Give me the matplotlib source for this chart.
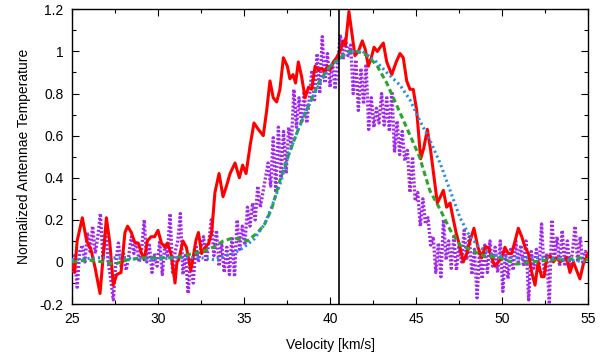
import numpy as np
import matplotlib
matplotlib.use("Agg")
import matplotlib.pyplot as plt
from matplotlib.ticker import MultipleLocator, FuncFormatter

plt.rcParams['font.family'] = ['Liberation Sans', 'DejaVu Sans']

# ---- data ----
red_v = [25.0, 25.15, 25.3, 25.6, 25.85, 26.1, 26.35, 26.63, 27.0, 27.2, 27.4, 27.6,
         27.85, 28.08, 28.23, 28.45, 28.66, 28.85, 29.05, 29.2, 29.38, 29.6, 29.8, 30.0,
         30.2, 30.4, 30.55, 30.75, 30.99, 31.1, 31.2, 31.45, 31.65, 31.9, 32.0, 32.2,
         32.35, 32.54, 32.75, 32.95, 33.12, 33.31, 33.55, 33.78, 33.98, 34.19, 34.48,
         34.73, 34.92, 35.12, 35.35, 35.58, 35.83, 36.12, 36.32, 36.51, 36.7, 36.9,
         37.09, 37.29, 37.52, 37.67, 37.85, 38.0, 38.16, 38.35, 38.55, 38.75, 38.94,
         39.13, 39.33, 39.52, 39.7, 39.84, 40.0, 40.19, 40.38, 40.58, 40.77, 40.9,
         41.1, 41.3, 41.45, 41.65, 41.88, 42.05, 42.23, 42.4, 42.56, 42.75, 42.92,
         43.1, 43.3, 43.59, 43.85, 44.07, 44.26, 44.46, 44.65, 44.84, 45.04, 45.15,
         45.27, 45.45, 45.66, 45.85, 46.05, 46.24, 46.42, 46.59, 46.78, 46.98, 47.15,
         47.33, 47.56, 47.75, 47.95, 48.14, 48.37, 48.6, 48.82, 49.0, 49.2, 49.4,
         49.59, 49.78, 49.98, 50.17, 50.36, 50.56, 50.76, 50.95, 51.15, 51.34, 51.54,
         51.73, 51.92, 52.1, 52.3, 52.45, 52.6, 52.8, 52.99, 53.18, 53.37, 53.56,
         53.76, 53.95, 54.15, 54.34, 54.53, 54.73, 55.0]
red_t = [0.01, -0.05, 0.1, 0.21, 0.1, 0.06, -0.03, -0.15, 0.21, 0.09, -0.11, -0.06,
         -0.05, 0.14, 0.17, 0.14, 0.09, 0.09, 0.04, 0.01, 0.1, 0.12, 0.12, 0.15,
         0.09, 0.07, 0.09, 0.04, -0.1, 0.0, 0.01, 0.1, 0.07, -0.04, 0.0, 0.1,
         0.14, 0.04, 0.07, 0.09, 0.14, 0.33, 0.42, 0.31, 0.36, 0.42, 0.47,
         0.40, 0.46, 0.42, 0.55, 0.66, 0.63, 0.60, 0.72, 0.86, 0.78, 0.76,
         0.82, 0.97, 0.93, 0.87, 0.89, 0.85, 0.95, 0.88, 0.78, 0.83, 0.82,
         0.93, 0.91, 0.92, 0.90, 0.93, 0.91, 0.95, 0.97, 1.0, 1.05, 1.03,
         1.19, 1.07, 0.98, 1.0, 1.05, 1.01, 0.93, 0.97, 1.02, 1.0, 1.02,
         1.04, 0.95, 0.89, 0.95, 0.99, 0.97, 0.86, 0.82, 0.82, 0.72, 0.61,
         0.49, 0.54, 0.63, 0.53, 0.40, 0.28, 0.31, 0.34, 0.26, 0.28, 0.21,
         0.14, 0.07, 0.0, 0.04, 0.1, 0.16, 0.07, 0.02, 0.07, 0.07, 0.02,
         -0.02, 0.0, 0.02, 0.07, 0.04, 0.04, 0.1, 0.16, 0.12, 0.07, 0.04,
         -0.05, -0.11, 0.0, -0.07, -0.07, 0.02, 0.03, 0.0, 0.02, 0.0, 0.01,
         0.02, -0.05, 0.0, -0.04, -0.08, -0.01, 0.04]

purple_start, purple_step = 25.0, 0.15
purple_t = [-0.05, 0.03, -0.12, 0.05, 0.08, 0.0, 0.14, 0.05, 0.17, 0.04,
            0.12, 0.23, 0.02, 0.15, 0.0, -0.08, -0.18, 0.0, 0.09, -0.02,
            0.04, -0.04, 0.03, 0.12, 0.04, 0.1, 0.0, 0.06, 0.2, 0.0,
            0.08, -0.05, 0.04, -0.02, 0.1, -0.06, 0.08, 0.03, 0.23, -0.05,
            0.05, 0.1, 0.23, -0.06, 0.04, -0.15, 0.02, -0.1, 0.08, 0.0,
            0.07, 0.12, 0.0, 0.09, 0.2, 0.03, 0.15, -0.02, 0.09, -0.05,
            0.07, -0.06, 0.12, -0.07, 0.2, 0.06, 0.17, 0.08, 0.26, 0.17,
            0.28, 0.2, 0.36, 0.26, 0.33, 0.4, 0.47, 0.36, 0.59, 0.33,
            0.64, 0.4, 0.62, 0.42, 0.64, 0.55, 0.82, 0.64, 0.78, 0.66,
            0.81, 0.66, 0.78, 0.91, 0.77, 0.99, 0.8, 1.07, 0.85, 0.99,
            0.83, 0.95, 0.82, 0.95, 1.08, 0.96, 1.06, 0.98, 1.03, 0.8,
            0.96, 0.72, 0.92, 0.75, 0.94, 0.63, 0.78, 0.64, 0.73, 0.66,
            0.8, 0.65, 0.78, 0.62, 0.81, 0.52, 0.67, 0.51, 0.62, 0.48,
            0.53, 0.33, 0.5, 0.29, 0.33, 0.17, 0.3, 0.18, 0.21, 0.08,
            0.12, -0.05, 0.09, -0.07, 0.2, 0.01, 0.1, -0.03, 0.12, -0.04,
            0.08, 0.0, 0.15, 0.01, 0.12, -0.06, 0.06, -0.17, 0.05, -0.08,
            0.08, -0.05, 0.1, -0.02, 0.07, -0.05, 0.1, -0.14, 0.05, -0.08,
            0.06, -0.04, 0.1, 0.0, 0.08, -0.02, 0.1, -0.18, 0.05, -0.03,
            0.06, -0.04, 0.18, -0.05, 0.04, -0.2, 0.2, 0.02, 0.12, -0.02,
            0.15, -0.02, 0.1, -0.03, 0.05, 0.17, 0.0, 0.12, -0.01, 0.05,
            0.02]

green_v = [25.0, 25.9, 26.8, 27.5, 28.2, 29.1, 30.1, 31.0, 32.0, 32.6, 33.2, 33.8,
           34.2, 34.7, 35.2, 35.8, 36.2, 36.6, 37.1, 37.6, 38.2, 38.8, 39.4, 40.0,
           40.6, 41.0, 41.6, 42.2, 42.75, 43.3, 43.9, 44.5, 45.2, 45.8, 46.4, 47.0,
           47.56, 48.14, 48.9, 49.9, 50.85, 51.8, 52.75, 53.7, 54.5, 55.0]
green_t = [0.0, 0.01, 0.0, -0.01, 0.01, 0.02, 0.02, 0.02, 0.04, 0.05, 0.07, 0.1,
           0.11, 0.11, 0.1, 0.14, 0.18, 0.25, 0.39, 0.51, 0.64, 0.75, 0.86, 0.93,
           0.97, 1.0, 1.0, 0.98, 0.93, 0.85, 0.74, 0.63, 0.5, 0.34, 0.25, 0.15,
           0.08, 0.06, 0.03, 0.02, -0.01, 0.0, 0.01, 0.01, 0.02, 0.01]

blue_v = [25.0, 26.5, 28.0, 29.5, 31.0, 32.5, 33.3, 33.9, 34.4, 35.0, 35.6, 36.2,
          36.6, 37.1, 37.6, 38.2, 38.8, 39.4, 40.0, 40.6, 41.2, 41.9, 42.7, 43.3,
          44.07, 44.65, 45.23, 45.8, 46.4, 46.98, 47.56, 48.14, 48.7, 49.3, 50.3,
          51.8, 52.8, 53.7, 55.0]
blue_t = [0.01, 0.02, 0.02, 0.01, 0.02, 0.02, 0.01, 0.03, 0.04, 0.07, 0.11, 0.18,
          0.26, 0.37, 0.51, 0.64, 0.75, 0.85, 0.93, 0.97, 1.0, 1.0, 0.95, 0.9,
          0.84, 0.77, 0.67, 0.58, 0.47, 0.34, 0.21, 0.12, 0.07, 0.04, 0.02,
          0.02, 0.02, 0.01, 0.0]

vline_v = 40.5
x_ticks = [25, 30, 35, 40, 45, 50, 55]
y_ticks = [-0.2, 0, 0.2, 0.4, 0.6, 0.8, 1.0, 1.2]

# ---- figure ----
fig = plt.figure(figsize=(6.0, 3.59), dpi=100)
ax = fig.add_axes([0.12, 0.153, 0.86, 0.821])

purple_v = purple_start + purple_step * np.arange(len(purple_t))

ax.plot(red_v, red_t, color='#ff0000', lw=2.2, zorder=4)
ax.plot(purple_v, purple_t, color='#a028ec', lw=2.4, linestyle=(0, (0.6, 0.6)), zorder=3)
ax.plot(green_v, green_t, color='#2aa52a', lw=2.2, linestyle=(0, (1.8, 1.1)), zorder=5)
ax.plot(blue_v, blue_t, color='#2b8be0', lw=2.2, linestyle=(0, (0.7, 1.0)), zorder=5)
ax.axvline(vline_v, color='black', lw=1.2, zorder=6)

ax.set_xlim(25, 55)
ax.set_ylim(-0.2, 1.2)
ax.set_xticks(x_ticks)
ax.set_yticks(y_ticks)
ax.xaxis.set_minor_locator(MultipleLocator(2.5))
ax.yaxis.set_minor_locator(MultipleLocator(0.1))
ax.yaxis.set_major_formatter(FuncFormatter(lambda v, p: '%g' % round(v, 3)))
ax.tick_params(which='both', direction='in', top=True, right=True, labelsize=10, colors='black')
ax.tick_params(which='major', length=5, width=0.8, pad=6)
ax.tick_params(which='minor', length=3, width=0.8)
for s in ax.spines.values():
    s.set_linewidth(1.0)
    s.set_color('black')

ax.set_xlabel('Velocity [km/s]', fontsize=10, labelpad=8)
ax.set_ylabel('Normalized Antennae Temperature', fontsize=10, labelpad=6)

fig.savefig('out.png', dpi=100)
